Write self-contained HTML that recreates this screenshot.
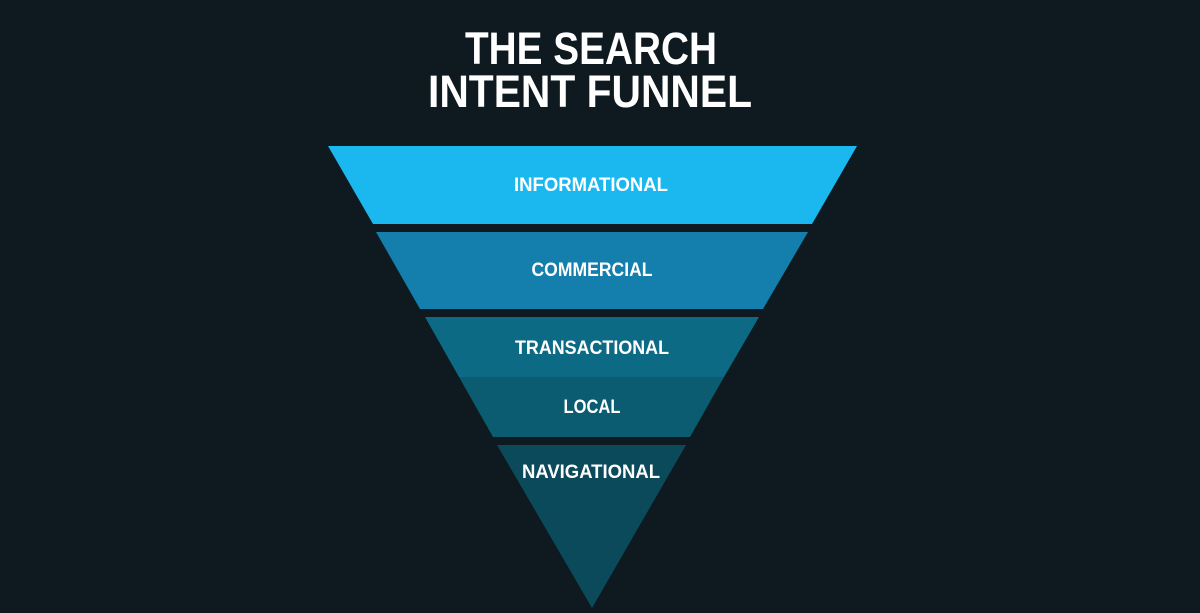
<!DOCTYPE html>
<html><head><style>html,body{margin:0;padding:0;background:#0e1a1f;}svg{display:block}</style></head>
<body>
<svg width="1200" height="613" viewBox="0 0 1200 613" xmlns="http://www.w3.org/2000/svg">
<rect width="1200" height="613" fill="#0e1a1f"/>
<g font-family="Liberation Sans, sans-serif" font-weight="bold" fill="#fff" text-anchor="middle">
<text x="591" y="64" font-size="45" textLength="252" lengthAdjust="spacingAndGlyphs">THE SEARCH</text>
<text x="590" y="107" font-size="45" textLength="324" lengthAdjust="spacingAndGlyphs">INTENT FUNNEL</text>
</g>
<polygon points="328,146 857,146 812,224 373,224" fill="#1bb8ef"/>
<polygon points="376,232 808,232 763,309 420,309" fill="#147fad"/>
<polygon points="425,317 759,317 724,377 459,377" fill="#0d6a85"/>
<polygon points="459,377 724,377 690,437 493,437" fill="#0b5c71"/>
<polygon points="497,445 686,445 592,608" fill="#0a4a5b"/>
<g font-family="Liberation Sans, sans-serif" font-weight="bold" fill="#fff" text-anchor="middle" font-size="19">
<text x="591" y="191" textLength="154" lengthAdjust="spacingAndGlyphs">INFORMATIONAL</text>
<text x="592" y="276" textLength="121" lengthAdjust="spacingAndGlyphs">COMMERCIAL</text>
<text x="592" y="354" textLength="154" lengthAdjust="spacingAndGlyphs">TRANSACTIONAL</text>
<text x="592" y="413" textLength="57" lengthAdjust="spacingAndGlyphs">LOCAL</text>
<text x="591" y="478" textLength="138" lengthAdjust="spacingAndGlyphs">NAVIGATIONAL</text>
</g>
</svg>
</body></html>
